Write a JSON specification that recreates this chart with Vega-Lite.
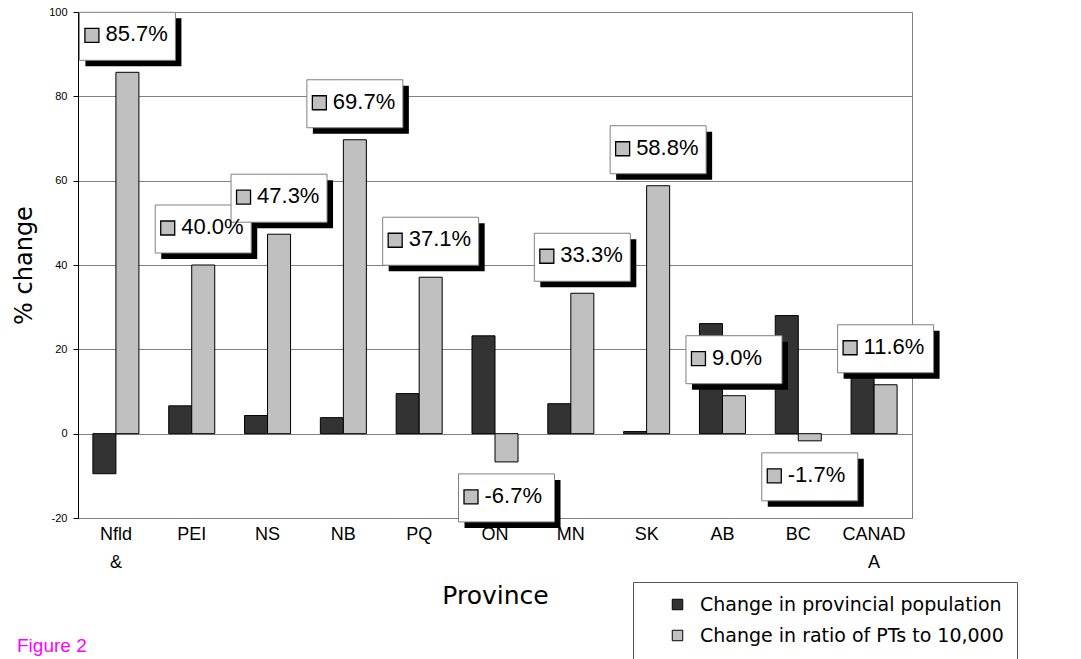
{
  "$schema": "https://vega.github.io/schema/vega-lite/v6.json",
  "width": 834,
  "height": 506,
  "autosize": {"type": "none"},
  "padding": {"left": 78, "top": 12, "right": 169, "bottom": 141},
  "background": "white",
  "title": {
    "text": "Figure 2",
    "orient": "bottom",
    "anchor": "start",
    "frame": "group",
    "color": "#ff00ff",
    "font": "Liberation Sans",
    "fontSize": 19,
    "fontWeight": "normal",
    "dx": -61,
    "dy": -43,
    "offset": 20
  },
  "data": {
    "values": [
      {"Province": "Nfld &", "series": "Change in provincial population", "value": -9.5},
      {"Province": "PEI", "series": "Change in provincial population", "value": 6.6},
      {"Province": "NS", "series": "Change in provincial population", "value": 4.3},
      {"Province": "NB", "series": "Change in provincial population", "value": 3.8},
      {"Province": "PQ", "series": "Change in provincial population", "value": 9.5},
      {"Province": "ON", "series": "Change in provincial population", "value": 23.2},
      {"Province": "MN", "series": "Change in provincial population", "value": 7.1},
      {"Province": "SK", "series": "Change in provincial population", "value": 0.5},
      {"Province": "AB", "series": "Change in provincial population", "value": 26.1},
      {"Province": "BC", "series": "Change in provincial population", "value": 28.0},
      {"Province": "CANADA", "series": "Change in provincial population", "value": 21.0},
      {"Province": "Nfld &", "series": "Change in ratio of PTs to 10,000", "value": 85.7},
      {"Province": "PEI", "series": "Change in ratio of PTs to 10,000", "value": 40.0},
      {"Province": "NS", "series": "Change in ratio of PTs to 10,000", "value": 47.3},
      {"Province": "NB", "series": "Change in ratio of PTs to 10,000", "value": 69.7},
      {"Province": "PQ", "series": "Change in ratio of PTs to 10,000", "value": 37.1},
      {"Province": "ON", "series": "Change in ratio of PTs to 10,000", "value": -6.7},
      {"Province": "MN", "series": "Change in ratio of PTs to 10,000", "value": 33.3},
      {"Province": "SK", "series": "Change in ratio of PTs to 10,000", "value": 58.8},
      {"Province": "AB", "series": "Change in ratio of PTs to 10,000", "value": 9.0},
      {"Province": "BC", "series": "Change in ratio of PTs to 10,000", "value": -1.7},
      {"Province": "CANADA", "series": "Change in ratio of PTs to 10,000", "value": 11.6}
    ]
  },
  "encoding": {
    "x": {
      "field": "Province",
      "type": "nominal",
      "sort": null,
      "scale": {"paddingInner": 0.393, "paddingOuter": 0.1965},
      "axis": {
        "title": "Province",
        "labelAngle": 0,
        "labelFont": "Liberation Sans",
        "labelFontSize": 18,
        "labelColor": "black",
        "labelPadding": 7,
        "labelLineHeight": 28,
        "labelExpr": "datum.value == 'Nfld &' ? ['Nfld', '&'] : datum.value == 'CANADA' ? ['CANAD', 'A'] : datum.value",
        "domain": false,
        "ticks": false,
        "titleFont": "DejaVu Sans",
        "titleFontSize": 25,
        "titleFontWeight": "normal",
        "titleColor": "black",
        "titlePadding": 12
      }
    },
    "y": {
      "field": "value",
      "type": "quantitative",
      "scale": {"domain": [-20, 100], "nice": false, "zero": true},
      "axis": {
        "title": "% change",
        "values": [-20, 0, 20, 40, 60, 80, 100],
        "labelFont": "Liberation Sans",
        "labelFontSize": 11,
        "labelColor": "black",
        "labelPadding": 6,
        "labelExpr": "datum.value < 0 ? '-' + abs(datum.value) : '' + datum.value",
        "tickSize": 5,
        "tickColor": "black",
        "domainColor": "black",
        "grid": true,
        "gridColor": "#808080",
        "titleFont": "DejaVu Sans",
        "titleFontSize": 24,
        "titleFontWeight": "normal",
        "titleColor": "black",
        "titlePadding": 12
      }
    }
  },
  "layer": [
    {
      "mark": {"type": "bar", "stroke": "black", "strokeWidth": 1},
      "encoding": {
        "xOffset": {"field": "series", "type": "nominal", "scale": {"paddingInner": 0, "paddingOuter": 0}},
        "color": {
          "field": "series",
          "type": "nominal",
          "scale": {
            "domain": ["Change in provincial population", "Change in ratio of PTs to 10,000"],
            "range": ["#333333", "#c0c0c0"]
          },
          "legend": {
            "title": null,
            "orient": "none",
            "legendX": 555,
            "legendY": 570,
            "padding": 13,
            "symbolOffset": 22,
            "symbolType": "square",
            "symbolSize": 110,
            "symbolStrokeColor": "black",
            "symbolStrokeWidth": 1,
            "labelFont": "DejaVu Sans",
            "labelFontSize": 19,
            "labelColor": "black",
            "labelOffset": 13,
            "labelLimit": 500,
            "rowPadding": 11,
            "strokeColor": "#555555",
            "fillColor": "white"
          }
        }
      }
    },
    {
      "transform": [
        {"filter": "datum.series == 'Change in ratio of PTs to 10,000' && datum.value >= 0"},
        {"calculate": "format(datum.value, '.1f') + '%'", "as": "label"}
      ],
      "layer": [
        {"mark": {"type": "point", "shape": "M-1,-0.5H1V0.5H-1Z", "size": 9216, "filled": true, "fill": "black", "stroke": null, "opacity": 1, "xOffset": 17.5, "yOffset": -30}},
        {"mark": {"type": "point", "shape": "M-1,-0.5H1V0.5H-1Z", "size": 9216, "filled": true, "fill": "white", "stroke": "#808080", "strokeWidth": 1, "opacity": 1, "xOffset": 11.5, "yOffset": -36}},
        {"mark": {"type": "point", "shape": "square", "size": 196, "filled": true, "fill": "#c0c0c0", "stroke": "black", "strokeWidth": 1.3, "opacity": 1, "xOffset": -24, "yOffset": -37}},
        {"mark": {"type": "text", "font": "Liberation Sans", "fontSize": 22, "color": "black", "align": "left", "baseline": "middle", "xOffset": -10.5, "yOffset": -38}, "encoding": {"text": {"field": "label"}}}
      ]
    },
    {
      "transform": [
        {"filter": "datum.series == 'Change in ratio of PTs to 10,000' && datum.value < 0"},
        {"calculate": "'-' + format(abs(datum.value), '.1f') + '%'", "as": "label"}
      ],
      "layer": [
        {"mark": {"type": "point", "shape": "M-1,-0.5H1V0.5H-1Z", "size": 9216, "filled": true, "fill": "black", "stroke": null, "opacity": 1, "xOffset": 17.5, "yOffset": 42}},
        {"mark": {"type": "point", "shape": "M-1,-0.5H1V0.5H-1Z", "size": 9216, "filled": true, "fill": "white", "stroke": "#808080", "strokeWidth": 1, "opacity": 1, "xOffset": 11.5, "yOffset": 36}},
        {"mark": {"type": "point", "shape": "square", "size": 196, "filled": true, "fill": "#c0c0c0", "stroke": "black", "strokeWidth": 1.3, "opacity": 1, "xOffset": -24, "yOffset": 35}},
        {"mark": {"type": "text", "font": "Liberation Sans", "fontSize": 22, "color": "black", "align": "left", "baseline": "middle", "xOffset": -10.5, "yOffset": 34}, "encoding": {"text": {"field": "label"}}}
      ]
    }
  ],
  "config": {
    "view": {"stroke": "#808080", "strokeWidth": 1}
  }
}
